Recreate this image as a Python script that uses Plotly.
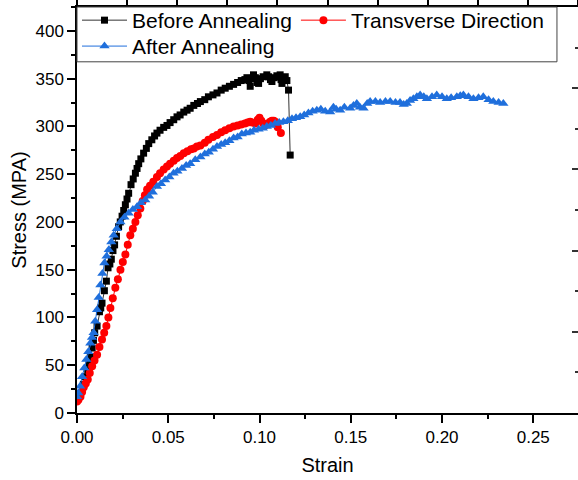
import plotly.graph_objects as go

# ---- data ----
before_strain = [0.0000, 0.0005, 0.0019, 0.0035, 0.0047, 0.0059, 0.0066, 0.0073, 0.0083, 0.0090,
                 0.0097, 0.0110, 0.0123, 0.0130, 0.0137, 0.0150, 0.0161, 0.0170, 0.0180, 0.0188,
                 0.0197, 0.0206, 0.0216, 0.0228, 0.0237, 0.0247, 0.0256, 0.0265, 0.0274, 0.0283,
                 0.0296, 0.0308, 0.0320, 0.0329, 0.0338, 0.0350, 0.0365, 0.0380, 0.0393, 0.0410,
                 0.0425, 0.0438, 0.0455, 0.0475, 0.0493, 0.0510, 0.0530, 0.0548, 0.0565, 0.0585,
                 0.0603, 0.0620, 0.0640, 0.0660, 0.0676, 0.0700, 0.0720, 0.0745, 0.0767, 0.0790,
                 0.0812, 0.0835, 0.0858, 0.0880, 0.0900, 0.0920, 0.0931, 0.0942, 0.0949, 0.0958,
                 0.0967, 0.0977, 0.0986, 0.0995, 0.1005, 0.1020, 0.1040, 0.1050, 0.1060, 0.1068,
                 0.1080, 0.1095, 0.1105, 0.1113, 0.1118, 0.1123, 0.1132, 0.1141, 0.1150, 0.1159,
                 0.1168]
before_stress = [14, 15, 20, 30, 38, 45, 52, 59, 68, 76,
                 84, 91, 106, 110, 115, 128, 138, 152, 156, 161,
                 170, 176, 185, 195, 200, 206, 212, 218, 224, 230,
                 239, 245, 251, 256, 261, 266, 272, 277, 282, 286,
                 290, 293, 296, 299, 301, 304, 307, 310, 312, 315,
                 317, 319, 322, 324, 326, 328, 331, 333, 335, 338,
                 340, 342, 344, 346, 348, 349, 351, 348, 342, 350,
                 354, 351, 346, 345, 350, 352, 354, 352, 349, 347,
                 351, 353, 352, 354, 349, 345, 350, 352, 348, 338,
                 270]

trans_strain = [0.0000, 0.0008, 0.0019, 0.0028, 0.0037, 0.0048, 0.0059, 0.0070, 0.0083, 0.0096,
                0.0110, 0.0123, 0.0137, 0.0149, 0.0161, 0.0172, 0.0183, 0.0196, 0.0210, 0.0224,
                0.0238, 0.0251, 0.0265, 0.0278, 0.0292, 0.0306, 0.0320, 0.0333, 0.0347, 0.0360,
                0.0372, 0.0384, 0.0400, 0.0418, 0.0438, 0.0455, 0.0475, 0.0493, 0.0510, 0.0530,
                0.0548, 0.0566, 0.0585, 0.0605, 0.0625, 0.0640, 0.0657, 0.0676, 0.0700, 0.0720,
                0.0745, 0.0767, 0.0790, 0.0812, 0.0835, 0.0858, 0.0880, 0.0900, 0.0920, 0.0935,
                0.0949, 0.0960, 0.0977, 0.0990, 0.1000, 0.1010, 0.1020, 0.1030, 0.1045, 0.1058,
                0.1068, 0.1078, 0.1086, 0.1100, 0.1117]
trans_stress = [12, 14, 17, 22, 27, 31, 35, 42, 49, 55,
                61, 69, 77, 84, 91, 100, 110, 120, 131, 140,
                150, 158, 166, 176, 186, 193, 200, 207, 214, 222,
                228, 234, 238, 242, 247, 251, 255, 258, 261, 264,
                267, 269, 272, 274, 276, 277, 279, 280, 283, 286,
                289, 291, 294, 296, 298, 300, 301, 302, 303, 304,
                305, 304, 303, 307, 309, 306, 303, 301, 303, 305,
                306, 306, 305, 299, 293]

after_strain = [0.0000, 0.0007, 0.0017, 0.0028, 0.0040, 0.0051, 0.0062, 0.0073, 0.0082, 0.0091,
                0.0100, 0.0110, 0.0119, 0.0128, 0.0139, 0.0150, 0.0162, 0.0174, 0.0188, 0.0201,
                0.0218, 0.0238, 0.0260, 0.0283, 0.0306, 0.0329, 0.0350, 0.0374, 0.0395, 0.0415,
                0.0438, 0.0460, 0.0483, 0.0506, 0.0529, 0.0550, 0.0575, 0.0598, 0.0620, 0.0648,
                0.0676, 0.0700, 0.0722, 0.0745, 0.0767, 0.0790, 0.0812, 0.0835, 0.0858, 0.0880,
                0.0903, 0.0926, 0.0949, 0.0970, 0.0995, 0.1018, 0.1040, 0.1062, 0.1086, 0.1108,
                0.1131, 0.1155, 0.1178, 0.1200, 0.1223, 0.1245, 0.1268, 0.1291, 0.1314, 0.1336,
                0.1360, 0.1387, 0.1405, 0.1420, 0.1442, 0.1465, 0.1497, 0.1515, 0.1533, 0.1550,
                0.1570, 0.1590, 0.1606, 0.1635, 0.1661, 0.1690, 0.1716, 0.1745, 0.1770, 0.1790,
                0.1807, 0.1825, 0.1843, 0.1862, 0.1880, 0.1900, 0.1917, 0.1945, 0.1971, 0.2000,
                0.2026, 0.2050, 0.2081, 0.2100, 0.2117, 0.2145, 0.2172, 0.2200, 0.2226, 0.2255,
                0.2281, 0.2310, 0.2336]
after_stress = [17, 21, 28, 38, 47, 56, 64, 73, 79, 84,
                96, 108, 121, 134, 146, 157, 164, 171, 179, 186,
                193, 200, 205, 209, 213, 216, 220, 223, 227, 231,
                237, 240, 244, 247, 251, 253, 256, 259, 261, 265,
                268, 271, 273, 276, 279, 281, 283, 285, 288, 289,
                292, 293, 294, 296, 297, 298, 300, 301, 303, 304,
                305, 306, 308, 309, 310, 312, 314, 316, 317, 318,
                316, 315, 320, 318, 317, 320, 319, 322, 324, 320,
                319, 324, 326, 326, 325, 326, 326, 325, 325, 323,
                324, 327, 329, 331, 333, 331, 329, 331, 333, 331,
                329, 330, 331, 332, 333, 331, 329, 330, 331, 328,
                326, 325, 324]

series_names = ["Before Annealing", "Transverse Direction", "After Annealing"]
series_colors = ["#000000", "#ff0000", "#1f6fdc"]
line_colors = ["#333333", "#ff0000", "#1f6fdc"]
series_symbols = ["square", "circle", "triangle-up"]
series_sizes = [7, 8, 9]
series_legends = ["legend", "legend2", "legend3"]

x_ticks = [0.00, 0.05, 0.10, 0.15, 0.20, 0.25]
y_ticks = [0, 50, 100, 150, 200, 250, 300, 350, 400]

FONT = "Arial, Liberation Sans, sans-serif"

fig = go.Figure()
data = [(before_strain, before_stress), (trans_strain, trans_stress), (after_strain, after_stress)]
for (xs, ys), name, col, lcol, sym, sz, lg in zip(data, series_names, series_colors, line_colors,
                                                  series_symbols, series_sizes, series_legends):
    fig.add_trace(go.Scatter(
        x=xs, y=ys, name=name, mode="lines+markers", legend=lg,
        line=dict(color=lcol, width=1),
        marker=dict(symbol=sym, size=sz, color=col, line=dict(width=0)),
    ))

# helper (empty) trace to create the mirrored top / right frame axes
fig.add_trace(go.Scatter(x=[], y=[], xaxis="x2", yaxis="y2", showlegend=False, hoverinfo="skip"))

axis_common = dict(showline=True, linecolor="black", linewidth=1.5, ticks="outside",
                   tickcolor="black", tickwidth=1.5, showgrid=False, zeroline=False,
                   automargin=False,
                   tickfont=dict(family=FONT, size=17, color="black"))

legend_common = dict(yanchor="top", xanchor="left", orientation="v",
                     bgcolor="rgba(0,0,0,0)", borderwidth=0, itemwidth=45,
                     font=dict(family=FONT, size=21, color="black"), tracegroupgap=0)

fig.update_layout(
    width=578, height=480,
    margin=dict(l=77, r=0, t=6, b=67),
    paper_bgcolor="white", plot_bgcolor="white",
    font=dict(family=FONT, color="black"),
    xaxis=dict(range=[0, 0.2745], tickvals=x_ticks, ticktext=[f"{v:.2f}" for v in x_ticks],
               ticklen=8,
               minor=dict(dtick=0.025, tick0=0, ticks="outside", ticklen=4, tickwidth=1.5,
                          tickcolor="black"),
               title=dict(text="Strain", font=dict(family=FONT, size=20, color="black"), standoff=12),
               **axis_common),
    yaxis=dict(range=[0, 425], tickvals=y_ticks, ticklen=8,
               minor=dict(dtick=25, tick0=0, ticks="outside", ticklen=4, tickwidth=1.5,
                          tickcolor="black"),
               title=dict(text="Stress (MPA)", font=dict(family=FONT, size=20, color="black"), standoff=3),
               **axis_common),
    xaxis2=dict(overlaying="x", side="top", anchor="y2", range=[0, 10], dtick=1, tick0=0,
                showticklabels=False, showline=True, linecolor="black", linewidth=1.5,
                ticks="outside", ticklen=6, tickwidth=1.5, tickcolor="black",
                showgrid=False, zeroline=False, automargin=False),
    yaxis2=dict(overlaying="y", side="right", anchor="x2", range=[0, 5], dtick=1, tick0=0,
                showticklabels=False, showline=False, automargin=False,
                ticks="inside", ticklen=6, tickwidth=1.5, tickcolor="#333333",
                minor=dict(dtick=0.5, tick0=0, ticks="inside", ticklen=3, tickwidth=1.5,
                           tickcolor="#333333"),
                showgrid=False, zeroline=False),
    legend=dict(x=0.0, y=1.017, **legend_common),
    legend2=dict(x=0.437, y=1.017, **legend_common),
    legend3=dict(x=0.0, y=0.951, **legend_common),
    # legend frame (white box with dark border) behind the legend groups
    shapes=[dict(type="rect", xref="paper", yref="paper", x0=0.0, x1=0.958, y0=0.865, y1=1.0,
                 fillcolor="white", line=dict(color="#444444", width=1), layer="above")],
    showlegend=True,
)

fig.write_html("out.html", config={"displayModeBar": False},
               post_script="document.body.style.margin='0';")
